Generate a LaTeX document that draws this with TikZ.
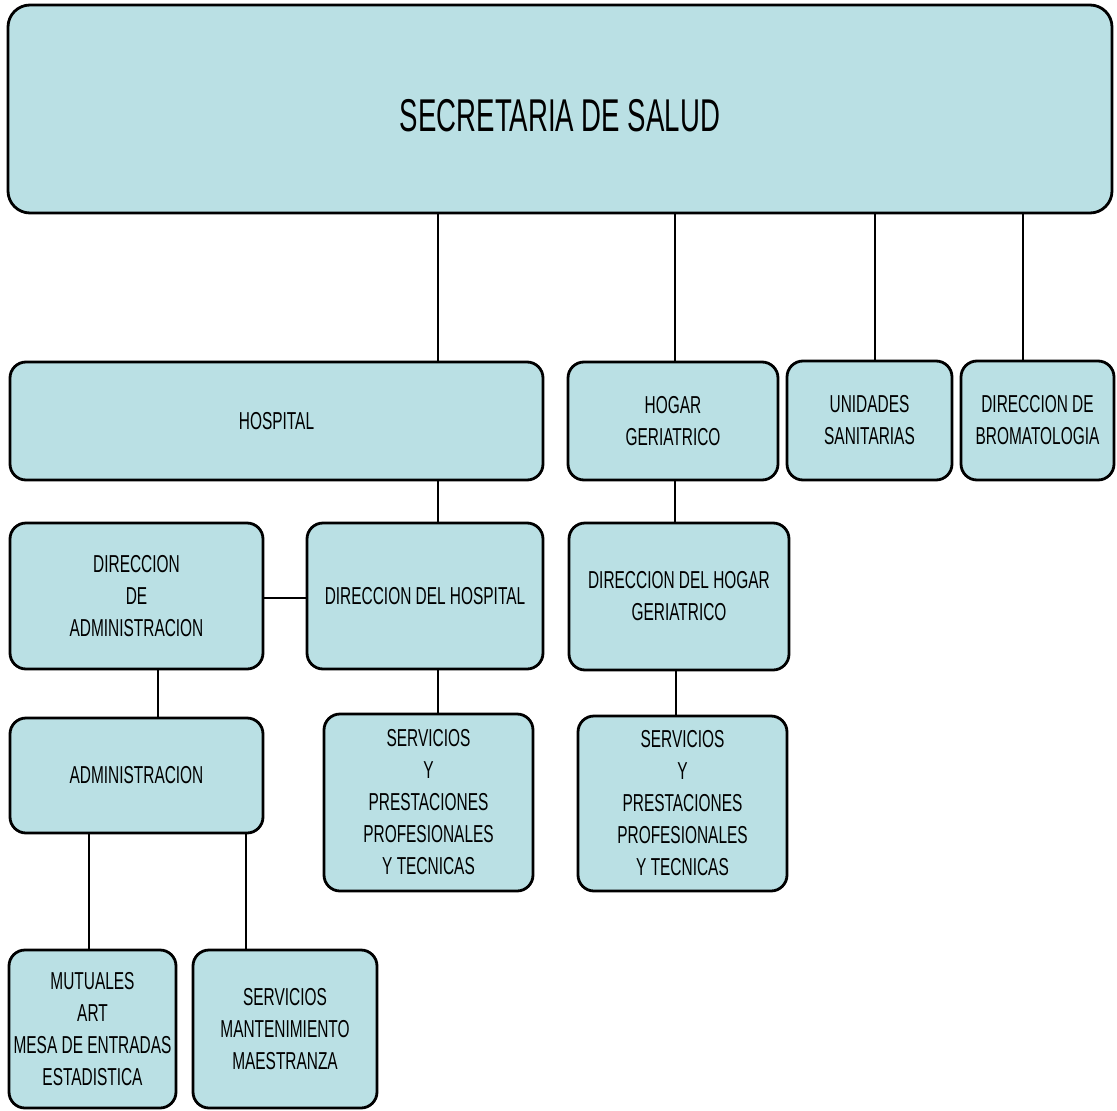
\documentclass[tikz,border=0pt]{standalone}
\usepackage{fontspec}
\setmainfont{Liberation Sans}
\newfontfamily\nfont[FakeStretch=0.63]{Liberation Sans}
\newfontfamily\tfont[FakeStretch=0.60]{Liberation Sans}
\definecolor{boxfill}{RGB}{186,224,228}
\newcommand\orgbox[7][]{%
  \node[box,#1,minimum width={(#5-#3)*1pt},minimum height={(#6-#4)*1pt}] (#2) at ({(#3+#5)/2},{(#4+#6)/2}) {#7};}
\begin{document}
\begin{tikzpicture}[x=1pt,y=-1pt,
  box/.style={draw=black,line width=2.8pt,fill=boxfill,rounded corners=16pt,
    align=center,inner sep=0pt,font=\nfont\fontsize{24.5}{32}\selectfont},
  titlebox/.style={rounded corners=22pt,text height=44pt,text depth=0pt,
    font=\tfont\fontsize{46}{52}\selectfont},
  link/.style={draw=black,line width=2.8pt}]
\useasboundingbox (0,0) rectangle (1117,1111);

\orgbox[titlebox]{top}{8}{5}{1112}{213}{SECRETARIA DE SALUD}
\orgbox{hosp}{10}{362}{543}{480}{HOSPITAL}
\orgbox{hogar}{568}{362}{778}{480}{HOGAR\\GERIATRICO}
\orgbox{unid}{787}{361}{952}{480}{UNIDADES\\SANITARIAS}
\orgbox{brom}{961}{361}{1114}{480}{DIRECCION DE\\BROMATOLOGIA}
\orgbox{diradm}{10}{523}{263}{669}{DIRECCION\\DE\\ADMINISTRACION}
\orgbox{dirhosp}{307}{523}{543}{669}{DIRECCION DEL HOSPITAL}
\orgbox{dirhogar}{569}{523}{789}{670}{DIRECCION DEL HOGAR\\GERIATRICO}
\orgbox{adm}{10}{718}{263}{833}{ADMINISTRACION}
\orgbox{servh}{324}{714}{533}{891}{SERVICIOS\\Y\\PRESTACIONES\\PROFESIONALES\\Y TECNICAS}
\orgbox{servg}{578}{716}{787}{891}{SERVICIOS\\Y\\PRESTACIONES\\PROFESIONALES\\Y TECNICAS}
\orgbox{mut}{9}{950}{176}{1108}{MUTUALES\\ART\\MESA DE ENTRADAS\\ESTADISTICA}
\orgbox{mant}{193}{950}{377}{1108}{SERVICIOS\\MANTENIMIENTO\\MAESTRANZA}

\draw[link] (top.south -| 438,0) -- (hosp.north -| 438,0);
\draw[link] (top.south -| 675,0) -- (hogar.north -| 675,0);
\draw[link] (top.south -| 875,0) -- (unid.north -| 875,0);
\draw[link] (top.south -| 1023,0) -- (brom.north -| 1023,0);
\draw[link] (hosp.south -| 438,0) -- (dirhosp.north -| 438,0);
\draw[link] (hogar.south -| 675,0) -- (dirhogar.north -| 675,0);
\draw[link] (diradm.east |- 0,598) -- (dirhosp.west |- 0,598);
\draw[link] (diradm.south -| 158,0) -- (adm.north -| 158,0);
\draw[link] (dirhosp.south -| 438,0) -- (servh.north -| 438,0);
\draw[link] (dirhogar.south -| 676,0) -- (servg.north -| 676,0);
\draw[link] (adm.south -| 89,0) -- (mut.north -| 89,0);
\draw[link] (adm.south -| 246,0) -- (mant.north -| 246,0);
\end{tikzpicture}
\end{document}
